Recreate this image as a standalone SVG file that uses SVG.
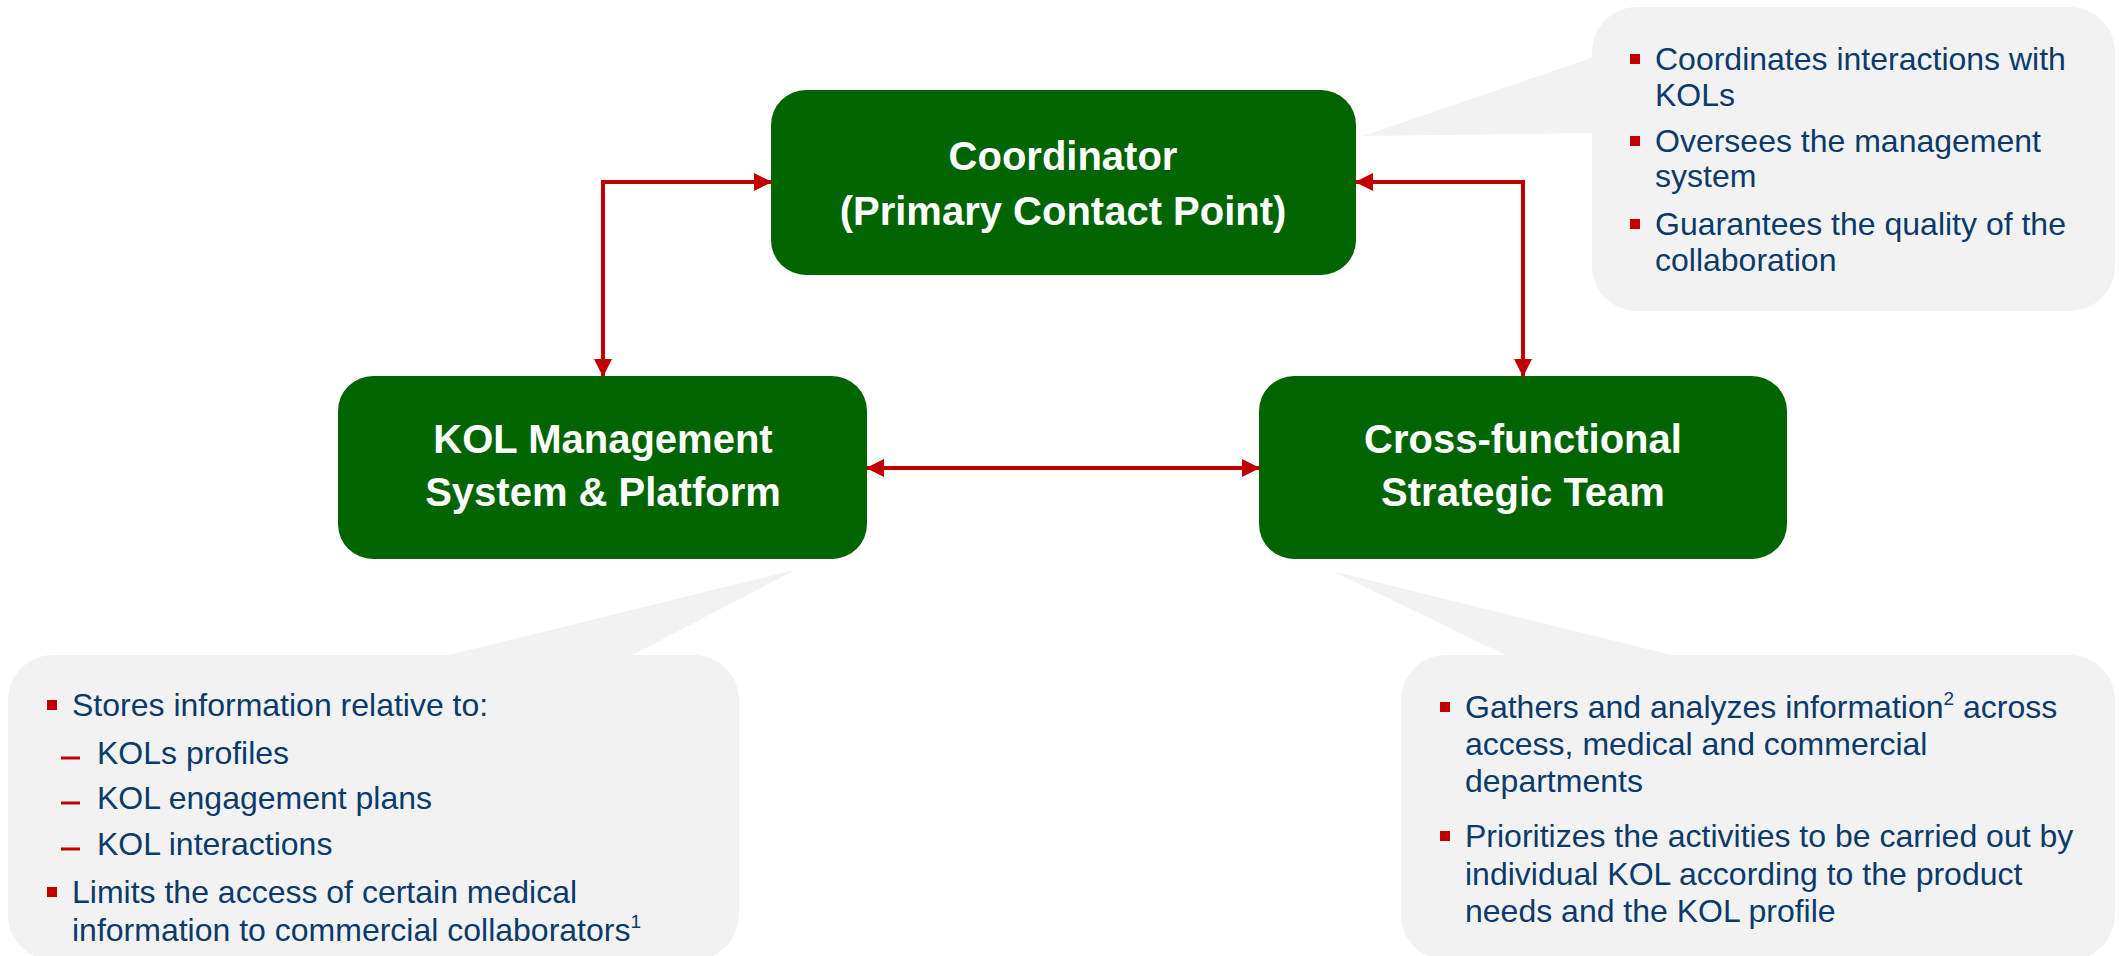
<svg xmlns="http://www.w3.org/2000/svg" width="2119" height="956" viewBox="0 0 2119 956">
  <style>
    .box { fill: #006400; }
    .callout { fill: #F2F2F2; }
    .title { font-family: "Liberation Sans", Arial, sans-serif; font-weight: bold; font-size: 40px; fill: #FFFFFF; text-anchor: middle; }
    .txt { font-family: "Liberation Sans", Arial, sans-serif; font-size: 32px; fill: #0B3A6B; }
    .sup { font-size: 19px; }
    .bullet { fill: #C00000; }
    .dash { stroke: #C00000; stroke-width: 3; }
    .conn { fill: none; stroke: #C00000; stroke-width: 4; }
  </style>
  <defs>
    <marker id="arrowEnd" markerUnits="userSpaceOnUse" markerWidth="18" markerHeight="18" viewBox="0 0 18 18" refX="17" refY="9" orient="auto">
      <path d="M0,0 L18,9 L0,18 Z" fill="#C00000"/>
    </marker>
    <marker id="arrowStart" markerUnits="userSpaceOnUse" markerWidth="18" markerHeight="18" viewBox="0 0 18 18" refX="1" refY="9" orient="auto">
      <path d="M18,0 L0,9 L18,18 Z" fill="#C00000"/>
    </marker>
  </defs>

  <!-- Callouts -->
  <g id="callout-coordinator">
    <polygon class="callout" points="1363,136 1600,55 1600,133"/>
    <rect class="callout" x="1592" y="7" width="523" height="304" rx="45" ry="45"/>
    <rect class="bullet" x="1630" y="54" width="10" height="10"/>
    <text class="txt" x="1655" y="70">Coordinates interactions with</text>
    <text class="txt" x="1655" y="106">KOLs</text>
    <rect class="bullet" x="1630" y="136" width="10" height="10"/>
    <text class="txt" x="1655" y="152">Oversees the management</text>
    <text class="txt" x="1655" y="187">system</text>
    <rect class="bullet" x="1630" y="219" width="10" height="10"/>
    <text class="txt" x="1655" y="235">Guarantees the quality of the</text>
    <text class="txt" x="1655" y="271">collaboration</text>
  </g>

  <g id="callout-kol">
    <polygon class="callout" points="795,570 420,662 619,662"/>
    <rect class="callout" x="8" y="655" width="731" height="305" rx="45" ry="45"/>
    <rect class="bullet" x="47" y="700" width="10" height="10"/>
    <text class="txt" x="72" y="716">Stores information relative to:</text>
    <line class="dash" x1="61" y1="758" x2="80" y2="758"/>
    <text class="txt" x="97" y="764">KOLs profiles</text>
    <line class="dash" x1="61" y1="803" x2="80" y2="803"/>
    <text class="txt" x="97" y="809">KOL engagement plans</text>
    <line class="dash" x1="61" y1="849" x2="80" y2="849"/>
    <text class="txt" x="97" y="855">KOL interactions</text>
    <rect class="bullet" x="47" y="887" width="10" height="10"/>
    <text class="txt" x="72" y="903">Limits the access of certain medical</text>
    <text class="txt" x="72" y="941">information to commercial collaborators<tspan class="sup" dy="-13">1</tspan></text>
  </g>

  <g id="callout-team">
    <polygon class="callout" points="1332,571 1520,662 1700,662"/>
    <rect class="callout" x="1401" y="655" width="714" height="305" rx="45" ry="45"/>
    <rect class="bullet" x="1440" y="702" width="10" height="10"/>
    <text class="txt" x="1465" y="718">Gathers and analyzes information<tspan class="sup" dy="-13">2</tspan><tspan dy="13"> across</tspan></text>
    <text class="txt" x="1465" y="755">access, medical and commercial</text>
    <text class="txt" x="1465" y="792">departments</text>
    <rect class="bullet" x="1440" y="831" width="10" height="10"/>
    <text class="txt" x="1465" y="847">Prioritizes the activities to be carried out by</text>
    <text class="txt" x="1465" y="885">individual KOL according to the product</text>
    <text class="txt" x="1465" y="922">needs and the KOL profile</text>
  </g>

  <!-- Nodes -->
  <g id="node-coordinator">
    <rect class="box" x="771" y="90" width="585" height="185" rx="35" ry="35"/>
    <text class="title" x="1063" y="170">Coordinator</text>
    <text class="title" x="1063" y="225">(Primary Contact Point)</text>
  </g>

  <g id="node-kol">
    <rect class="box" x="338" y="376" width="529" height="183" rx="35" ry="35"/>
    <text class="title" x="603" y="453">KOL Management</text>
    <text class="title" x="603" y="506">System &amp; Platform</text>
  </g>

  <g id="node-team">
    <rect class="box" x="1259" y="376" width="528" height="183" rx="35" ry="35"/>
    <text class="title" x="1523" y="453">Cross-functional</text>
    <text class="title" x="1523" y="506">Strategic Team</text>
  </g>

  <!-- Connectors -->
  <g id="connectors">
    <path class="conn" d="M603,376 L603,182 L771,182" marker-start="url(#arrowStart)" marker-end="url(#arrowEnd)"/>
    <path class="conn" d="M1356,182 L1523,182 L1523,376" marker-start="url(#arrowStart)" marker-end="url(#arrowEnd)"/>
    <path class="conn" d="M867,468 L1259,468" marker-start="url(#arrowStart)" marker-end="url(#arrowEnd)"/>
  </g>
</svg>
